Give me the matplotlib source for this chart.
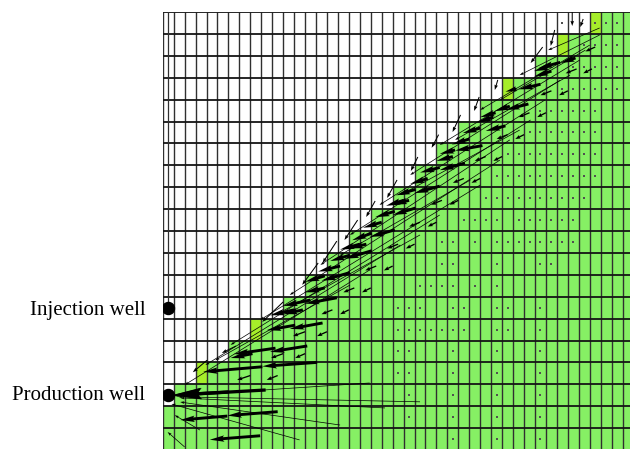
import numpy as np
import matplotlib.pyplot as plt
from matplotlib.colors import ListedColormap

# ---------------- grid / saturation front ----------------
n_rows = 20
n_cols = 43
# first swept (green) column in each row, top row first
front_col = [39, 36, 34, 31, 29, 27, 25, 23, 21, 19, 17, 15, 13, 11, 8, 6, 3, 1, 0, 0]
# front cells drawn in the lighter yellow-green colour (row, col)
yellow_cells = [(0, 39), (1, 36), (3, 31), (14, 8), (16, 3)]

# wells (column, row) in cell units
inj_well = (0.48, 13.5)
prod_well = (0.48, 17.5)

# ---------------- velocity arrows (cell units) ----------------
# thick arrows in the swept band behind the front: tail x, tail y, dx, dy
dart_x = [37.7, 36.3, 34.5, 32.3, 33.4, 31.7, 31.3, 29.0, 29.2, 26.7, 27.6, 25.3,
          25.3, 23.1, 23.1, 21.2, 21.2, 19.1, 19.1, 17.1, 17.1, 14.8, 15.9, 13.5,
          14.6, 12.1, 13.2, 10.3, 14.1, 9.1, 10.5, 5.9, 8.9, 35.5, 30.2, 28.0,
          24.2, 22.0, 20.0, 18.0, 16.2, 12.0,
          35.2, 30.4, 26.5, 22.5, 18.6, 14.8, 12.8, 8.2]
dart_y = [2.1, 2.3, 3.3, 3.5, 4.2, 4.3, 5.2, 5.3, 6.1, 6.3, 6.9, 7.1,
          7.95, 8.1, 8.95, 9.1, 9.95, 10.1, 10.9, 11.1, 11.9, 12.05, 13.05, 13.15,
          14.2, 14.3, 15.25, 15.35, 16.0, 16.2, 18.25, 18.45, 19.35, 2.7, 4.8, 5.8,
          7.6, 8.6, 9.6, 10.6, 11.6, 13.6,
          2.5, 4.6, 6.6, 8.6, 10.6, 12.6, 13.6, 15.6]
dart_u = [-1.4, -2.0, -2.0, -1.0, -2.1, -1.4, -1.8, -1.6, -2.5, -1.4, -2.3, -1.8,
          -2.3, -1.8, -2.1, -1.8, -2.3, -1.8, -2.5, -1.8, -2.6, -1.8, -2.9, -2.5,
          -3.0, -2.6, -3.4, -3.8, -5.0, -5.4, -4.6, -4.3, -4.6, -1.6, -1.5, -1.6,
          -1.6, -1.6, -1.7, -1.8, -2.0, -2.2,
          -1.3, -1.4, -1.5, -1.5, -1.6, -1.8, -1.8, -2.0]
dart_v = [0.23, 0.27, 0.23, 0.14, 0.27, 0.23, 0.23, 0.23, 0.23, 0.18, 0.32, 0.23,
          0.32, 0.27, 0.32, 0.27, 0.32, 0.32, 0.37, 0.27, 0.37, 0.27, 0.27, 0.27,
          0.27, 0.23, 0.27, 0.27, 0.18, 0.23, 0.18, 0.18, 0.18, 0.25, 0.25, 0.25,
          0.25, 0.25, 0.25, 0.25, 0.25, 0.25,
          0.2, 0.2, 0.2, 0.2, 0.2, 0.2, 0.2, 0.2]

# smaller arrows deeper in the swept band
mid_x = [39.5, 37.8, 39.2, 35.5, 37.0, 33.5, 35.0, 31.5, 33.0, 29.5, 31.0, 27.5, 29.0,
         25.5, 27.0, 23.5, 25.0, 21.5, 23.0, 19.5, 21.0, 17.5, 19.0, 15.5, 17.0,
         13.0, 15.0, 11.0, 13.0, 8.0, 10.5]
mid_y = [1.6, 2.6, 2.6, 3.6, 3.6, 4.6, 4.6, 5.6, 5.6, 6.6, 6.6, 7.6, 7.6,
         8.6, 8.6, 9.6, 9.6, 10.6, 10.6, 11.6, 11.6, 12.6, 12.6, 13.6, 13.6,
         14.6, 14.6, 15.6, 15.6, 16.6, 16.6]
mid_u = [-0.9, -1.0, -0.8, -1.0, -0.8, -1.0, -0.8, -1.0, -0.8, -1.0, -0.8, -1.0, -0.8,
         -1.0, -0.8, -1.0, -0.8, -1.0, -0.8, -1.0, -0.8, -1.0, -0.8, -1.0, -0.8,
         -1.1, -0.9, -1.1, -0.9, -1.2, -1.0]
mid_v = [0.2] * 31

# short thin arrows running just ahead of the front
front_x = [37.4, 38.4, 35.8, 34.7, 30.6, 28.9, 27.2, 25.2, 23.3, 21.4, 19.4, 17.8,
           15.9, 14.2, 11.0, 6.7, 4.05]
front_y = [0.0, 0.32, 0.82, 1.6, 3.1, 3.88, 4.7, 5.6, 6.62, 7.67, 8.63, 9.5,
           10.46, 11.46, 13.24, 15.25, 15.9]
front_u = [0.0, -0.27, -0.37, -1.1, -0.27, -0.46, -0.73, -0.64, -0.64, -0.91, -0.82, -1.2,
           -1.3, -1.46, -1.9, -1.3, -1.3]
front_v = [0.64, 0.37, 0.73, 0.73, 0.46, 0.64, 0.78, 0.6, 0.64, 0.82, 0.73, 0.91,
           1.0, 1.0, 0.91, 0.32, 0.55]

# long thin streak arrows, ending at the front
long_x = [39.9, 39.9, 39.0, 38.1, 36.3, 34.9, 33.6, 31.7, 30.8, 29.0, 25.3, 21.7, 18.9,
          38.6, 37.2, 32.6, 28.1, 23.5, 17.1,
          18.9, 23.5, 20.3, 16.2, 12.5, 3.4, 2.0]
long_y = [0.73, 1.05, 1.51, 2.19, 3.11, 4.02, 4.93, 5.84, 6.76, 7.9, 9.27, 10.64, 11.78,
          1.74, 2.88, 5.39, 7.67, 10.18, 12.47,
          16.94, 17.8, 18.08, 18.86, 19.54, 19.09, 19.86]
long_u = [-4.7, -7.3, -10.0, -12.8, -13.7, -15.1, -16.5, -17.3, -19.2, -20.1, -19.1, -17.8, -16.9,
          -7.8, -10.5, -10.9, -11.9, -13.2, -12.3,
          -17.8, -22.1, -18.7, -14.6, -11.7, -2.3, -1.55]
long_v = [1.01, 1.83, 2.96, 3.88, 4.33, 4.79, 5.25, 5.71, 6.16, 6.16, 5.93, 5.48, 5.25,
          2.28, 2.96, 2.97, 3.43, 3.66, 3.43,
          0.59, -0.23, -0.46, -1.05, -1.64, -0.68, -0.68]

# big converging arrow into the production well
wedge_x = [9.4, 6.0]
wedge_y = [17.26, 17.35]
wedge_u = [-8.5, -5.2]
wedge_v = [0.24, 0.15]

# near-zero velocities in the far swept zone (dots), columns listed per row
dot_cols = [[36, 39, 40, 41], [38, 39, 40, 41], [37, 38, 39, 40, 41],
            [36, 37, 38, 39, 40, 41], [34, 35, 36, 37, 38, 39],
            [33, 34, 35, 36, 37, 38, 39], [31, 32, 33, 34, 35, 36, 37, 38, 39],
            [30, 31, 32, 33, 34, 35, 36, 37, 38, 39],
            [29, 30, 31, 32, 33, 34, 35, 36, 37, 38],
            [27, 28, 29, 30, 32, 33, 34, 35, 36, 37],
            [25, 26, 28, 30, 31, 32, 33, 34, 35, 36, 37],
            [25, 26, 30, 34, 35], [23, 24, 25, 26, 28, 30],
            [21, 22, 23, 26, 27, 30, 31, 34],
            [21, 22, 23, 24, 25, 26, 27, 30, 31, 34],
            [21, 22, 26, 30, 34], [21, 22, 26, 30, 34],
            [22, 26, 30, 34], [22, 26, 30, 34], [26, 30, 34]]

# ---------------- build cell map ----------------
cells = np.zeros((n_rows, n_cols))
for r, c0 in enumerate(front_col):
    cells[r, c0:] = 1
for r, c in yellow_cells:
    cells[r, c] = 2
cmap = ListedColormap(['white', '#86f064', '#a6ee2a'])

fig = plt.figure(figsize=(6.30, 4.49), dpi=100)
ax = fig.add_axes([162.7 / 630, 0, 1 - 162.7 / 630, 437 / 449])
ax.imshow(cells, cmap=cmap, vmin=0, vmax=2, extent=(0, n_cols, n_rows, 0),
          interpolation='nearest', aspect='auto', zorder=0)

ax.vlines(np.arange(0, n_cols + 1), 0, n_rows, colors='#303030', lw=1.0, zorder=1)
ax.hlines(np.arange(0, n_rows + 1), 0, n_cols, colors='#151515', lw=1.3, zorder=1)

# well bore down to the injector
ax.plot([inj_well[0], inj_well[0]], [0, inj_well[1]], color='#303030', lw=0.9, zorder=1)

# dots
dx, dy = [], []
for r, cols in enumerate(dot_cols):
    for c in cols:
        dx.append(c + 0.5)
        dy.append(r + 0.5)
ax.scatter(dx, dy, s=0.6, c='#505050', marker='s', lw=0, zorder=2)

q = dict(angles='xy', scale_units='xy', scale=1, color='black', zorder=3)
ax.quiver(long_x, long_y, long_u, long_v, width=0.0015, headwidth=4, headlength=6,
          headaxislength=5, **q)
ax.quiver(mid_x, mid_y, mid_u, mid_v, width=0.0028, headwidth=3, headlength=4,
          headaxislength=3.5, **q)
ax.quiver(front_x, front_y, front_u, front_v, width=0.0022, headwidth=3.5, headlength=5,
          headaxislength=4.5, **q)
ax.quiver(dart_x, dart_y, dart_u, dart_v, width=0.0062, headwidth=2.2, headlength=5,
          headaxislength=4.5, **q)
ax.quiver(wedge_x, wedge_y, wedge_u, wedge_v, width=0.007, headwidth=3.5, headlength=9,
          headaxislength=8, **q)

# wells
ax.scatter([inj_well[0], prod_well[0]], [inj_well[1], prod_well[1]], s=75, c='black',
           zorder=4)

ax.text(-1.6, inj_well[1] + 0.15, 'Injection well', ha='right', va='center',
        fontsize=15, family='Liberation Serif', clip_on=False)
ax.text(-1.6, prod_well[1], 'Production well', ha='right', va='center',
        fontsize=15, family='Liberation Serif', clip_on=False)

ax.set_xlim(0, (630 - 162.7) / 10.95)
ax.set_ylim(437 / 21.9, 0)
ax.axis('off')

fig.savefig('out.png', dpi=100)
